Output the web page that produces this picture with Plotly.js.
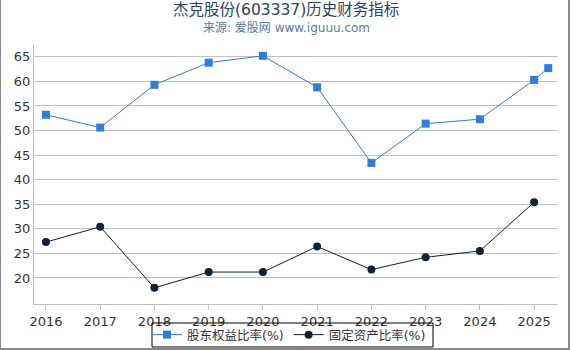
<!DOCTYPE html>
<html><head><meta charset="utf-8">
<script src="https://cdn.plot.ly/plotly-3.0.1.min.js"></script>
<style>
html,body{margin:0;padding:0;background:#fff;}
#wrap{position:absolute;left:0;top:0;width:567px;height:348px;border-left:1px solid #888;border-right:2px solid #888;border-bottom:2px solid #888;}
#chart{width:567px;height:348px;}
</style></head>
<body><div id="wrap"><div id="chart"></div></div>
<script>
const equityX = [2016, 2017, 2018, 2019, 2020, 2021, 2022, 2023, 2024, 2025, 2025.26];
const equityRatio = [53.2, 50.6, 59.3, 63.8, 65.2, 58.8, 43.4, 51.4, 52.3, 60.3, 62.7];
const fixedX = [2016, 2017, 2018, 2019, 2020, 2021, 2022, 2023, 2024, 2025];
const fixedRatio = [27.3, 30.4, 18.0, 21.2, 21.2, 26.4, 21.7, 24.2, 25.5, 35.4];
const tickYears = [2016, 2017, 2018, 2019, 2020, 2021, 2022, 2023, 2024, 2025];
const yTicks = [20, 25, 30, 35, 40, 45, 50, 55, 60, 65];
const seriesNames = ['股东权益比率(%)', '固定资产比率(%)'];
const titleText = '杰克股份(603337)历史财务指标';
const subtitleText = '来源: 爱股网 www.iguuu.com';

const FONT = 'DejaVu Sans, Noto Sans CJK SC, sans-serif';
const W = 567, H = 348, ML = 33, MR = 10, MT = 45, MB = 44;
const PW = W - ML - MR, PH = H - MT - MB;
const px = v => (v - ML) / PW;          // pixel x -> paper x
const py = v => (H - MB - v) / PH;      // pixel y -> paper y
const data = [
  {x: equityX, y: equityRatio, name: seriesNames[0], type: 'scatter', mode: 'lines+markers',
   line: {color: '#2f7ed8', width: 1}, marker: {symbol: 'square', size: 8, color: '#2f7ed8'}},
  {x: fixedX, y: fixedRatio, name: seriesNames[1], type: 'scatter', mode: 'lines+markers',
   line: {color: '#0d233a', width: 1}, marker: {symbol: 'circle', size: 8, color: '#0d233a'}}
];
const layout = {
  width: W, height: H,
  margin: {l: ML, r: MR, t: MT, b: MB, autoexpand: false},
  paper_bgcolor: '#fff', plot_bgcolor: '#fff',
  font: {family: FONT, size: 12, color: '#444'},
  annotations: [
    {text: titleText, xref: 'paper', yref: 'paper', x: px(284.5), y: py(10.5), yanchor: 'middle',
     showarrow: false, font: {family: FONT, size: 15.5, color: '#2a4365'}},
    {text: subtitleText, xref: 'paper', yref: 'paper', x: px(285), y: py(28), yanchor: 'middle',
     showarrow: false, font: {family: FONT, size: 12, color: '#5a7ca8'}}
  ],
  shapes: [
    {type: 'rect', xref: 'paper', yref: 'paper', x0: px(151), x1: px(432), y0: py(323), y1: py(347),
     line: {color: '#000', width: 1}, fillcolor: 'rgba(0,0,0,0)'}
  ],
  xaxis: {range: [2015.78, 2025.44], tickvals: tickYears, ticktext: tickYears.map(String),
          showgrid: false, zeroline: false, showline: true, linecolor: '#c0c0c0', linewidth: 1,
          ticks: 'outside', ticklen: 5, tickcolor: '#c0c0c0', tickfont: {size: 13, color: '#333'}},
  yaxis: {range: [14.7, 67.4], tickvals: yTicks, showgrid: true, gridcolor: '#c0c0c0', gridwidth: 1,
          zeroline: false, showline: true, linecolor: '#c0c0c0', linewidth: 1, ticks: '',
          tickfont: {size: 13, color: '#333'}},
  showlegend: true,
  legend: {orientation: 'h', x: px(288), xanchor: 'center', y: py(335), yanchor: 'middle',
           borderwidth: 0, bgcolor: 'rgba(0,0,0,0)', font: {size: 12.5, color: '#333'},
           itemwidth: 30, tracegroupgap: 0}
};
Plotly.newPlot('chart', data, layout, {displayModeBar: false, staticPlot: true});
</script></body></html>
